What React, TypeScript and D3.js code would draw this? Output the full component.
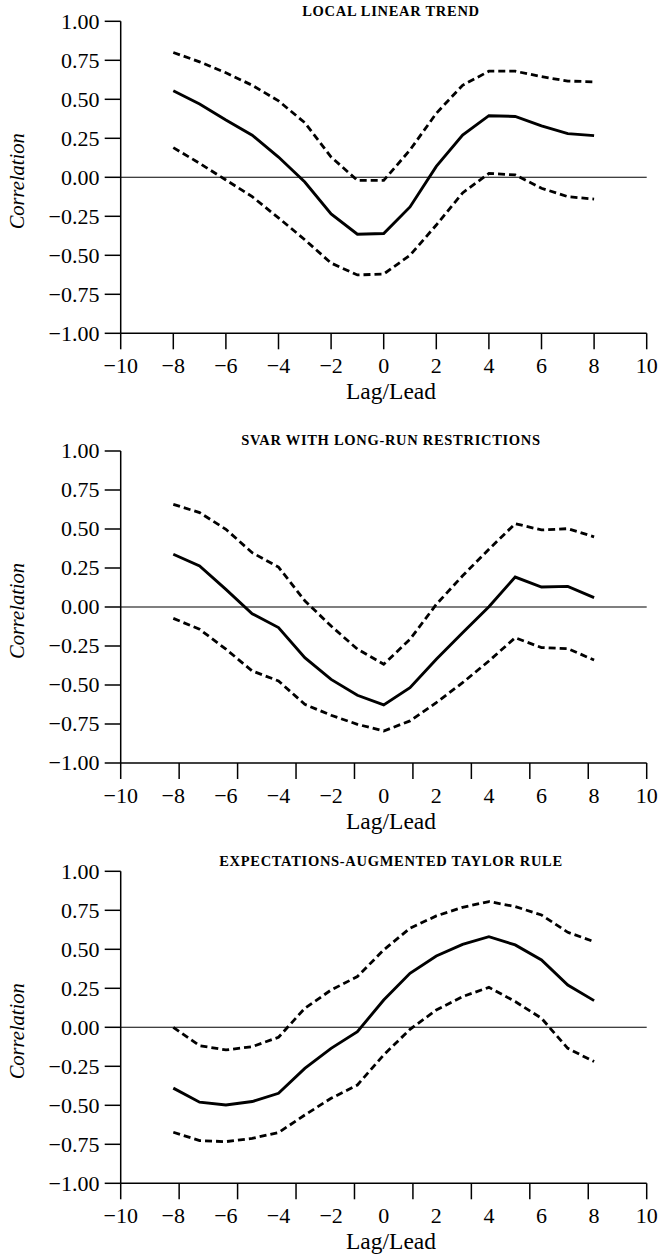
import * as React from 'react';
import * as d3 from 'd3';

// lags / leads shown on every panel
const lags = [-8, -7, -6, -5, -4, -3, -2, -1, 0, 1, 2, 3, 4, 5, 6, 7, 8];
const xTickLabels = [-10, -8, -6, -4, -2, 0, 2, 4, 6, 8, 10];
const yTickLabels = [1, 0.75, 0.5, 0.25, 0, -0.25, -0.5, -0.75, -1];

const titles = [
  'LOCAL LINEAR TREND',
  'SVAR WITH LONG-RUN RESTRICTIONS',
  'EXPECTATIONS-AUGMENTED TAYLOR RULE',
];

// local linear trend
const llCenter = [0.555, 0.47, 0.367, 0.27, 0.13, -0.03, -0.235, -0.365, -0.36, -0.19, 0.07, 0.27, 0.395, 0.39, 0.33, 0.28, 0.267];
const llUpper = [0.8, 0.74, 0.67, 0.59, 0.49, 0.35, 0.13, -0.02, -0.02, 0.175, 0.41, 0.59, 0.68, 0.68, 0.645, 0.617, 0.612];
const llLower = [0.19, 0.09, -0.017, -0.124, -0.26, -0.4, -0.55, -0.626, -0.62, -0.5, -0.306, -0.1, 0.025, 0.015, -0.07, -0.124, -0.14];

// SVAR with long-run restrictions
const svCenter = [0.338, 0.263, 0.113, -0.043, -0.132, -0.325, -0.464, -0.566, -0.628, -0.517, -0.335, -0.165, 0.002, 0.192, 0.128, 0.132, 0.06];
const svUpper = [0.658, 0.605, 0.498, 0.348, 0.256, 0.04, -0.122, -0.27, -0.367, -0.207, 0.017, 0.2, 0.37, 0.534, 0.494, 0.502, 0.45];
const svLower = [-0.073, -0.143, -0.27, -0.41, -0.474, -0.624, -0.694, -0.752, -0.795, -0.73, -0.613, -0.485, -0.346, -0.197, -0.26, -0.267, -0.34];

// expectations-augmented Taylor rule
const etCenter = [-0.39, -0.48, -0.498, -0.476, -0.423, -0.263, -0.135, -0.028, 0.175, 0.346, 0.457, 0.532, 0.581, 0.528, 0.432, 0.271, 0.171];
const etUpper = [0.0, -0.118, -0.145, -0.124, -0.064, 0.122, 0.239, 0.325, 0.496, 0.635, 0.714, 0.769, 0.806, 0.774, 0.72, 0.609, 0.549];
const etLower = [-0.673, -0.726, -0.733, -0.712, -0.675, -0.562, -0.455, -0.37, -0.177, -0.013, 0.111, 0.197, 0.256, 0.165, 0.058, -0.135, -0.22];

const W = 659;
const H = 1258;
const serif = {fontFamily: "'Liberation Serif', 'DejaVu Serif', serif"};

// layout (not data)
const panelTops = [21.3, 451, 871.3];
const panelH = 312;
const x0 = 120.7;
const x1 = 646.7;
const tickLen = 16;
// the original draws 11 tick marks on the first panel and 10 on the others
const xTickMarkCounts = [11, 10, 10];
const lagLeadOffset = 66;

const fmtY = (v: number) => (v < 0 ? '\u2212' : '') + Math.abs(v).toFixed(2);
const fmtX = (v: number) => (v < 0 ? '\u2212' : '') + Math.abs(v);

interface PanelProps {
  index: number;
  title: string;
  center: number[];
  upper: number[];
  lower: number[];
}

const Panel = ({index, title, center, upper, lower}: PanelProps) => {
  const top = panelTops[index];
  const bottom = top + panelH;
  const x = d3.scaleLinear().domain([-10, 10]).range([x0, x1]);
  const y = d3.scaleLinear().domain([-1, 1]).range([bottom, top]);

  const line = d3.line<number>()
    .x((_, i) => x(lags[i]))
    .y(d => y(d));

  const nMarks = xTickMarkCounts[index];
  const markScale = d3.scaleLinear().domain([0, nMarks - 1]).range([x0, x1]);
  const marks = d3.range(nMarks).map(i => markScale(i));

  return (
    <g>
      <text x={391} y={top - 5.7} textAnchor="middle" style={serif}
        fontWeight="bold" fontSize={14.5} letterSpacing={0.7}>{title}</text>

      {/* zero line */}
      <line x1={x0} x2={x1} y1={y(0)} y2={y(0)} stroke="#000" strokeWidth={1.1}/>

      {/* axes */}
      <line x1={x0} x2={x0} y1={top} y2={bottom} stroke="#000" strokeWidth={1.5}/>
      <line x1={x0} x2={x1} y1={bottom} y2={bottom} stroke="#000" strokeWidth={1.5}/>

      {yTickLabels.map(v => (
        <g key={'y' + v}>
          <line x1={x0 - tickLen} x2={x0} y1={y(v)} y2={y(v)} stroke="#000" strokeWidth={1.5}/>
          <text x={99.5} y={y(v) + 7.2} textAnchor="end" style={serif} fontSize={22}>{fmtY(v)}</text>
        </g>
      ))}

      {marks.map((m, i) => (
        <line key={'m' + i} x1={m} x2={m} y1={bottom} y2={bottom + tickLen} stroke="#000" strokeWidth={1.5}/>
      ))}
      {xTickLabels.map(v => (
        <text key={'x' + v} x={x(v)} y={bottom + 40} textAnchor="middle" style={serif} fontSize={22}>{fmtX(v)}</text>
      ))}

      <text x={391} y={bottom + lagLeadOffset} textAnchor="middle" style={serif} fontSize={23.5}>Lag/Lead</text>
      <text transform={`translate(24,${y(0) + 4}) rotate(-90)`} textAnchor="middle" style={serif}
        fontStyle="italic" fontSize={20.5}>Correlation</text>

      <path d={line(upper) || ''} fill="none" stroke="#000" strokeWidth={2.8} strokeDasharray="7,4"/>
      <path d={line(lower) || ''} fill="none" stroke="#000" strokeWidth={2.8} strokeDasharray="7,4"/>
      <path d={line(center) || ''} fill="none" stroke="#000" strokeWidth={2.9}/>
    </g>
  );
};

export default function App() {
  const series = [
    [llCenter, llUpper, llLower],
    [svCenter, svUpper, svLower],
    [etCenter, etUpper, etLower],
  ];
  return (
    <svg width={W} height={H} viewBox={`0 0 ${W} ${H}`}
      style={{position: 'absolute', left: 0, top: 0, background: '#fff', display: 'block'}}>
      <rect width={W} height={H} fill="#fff"/>
      {titles.map((t, i) => (
        <Panel key={t} index={i} title={t} center={series[i][0]} upper={series[i][1]} lower={series[i][2]}/>
      ))}
    </svg>
  );
}
